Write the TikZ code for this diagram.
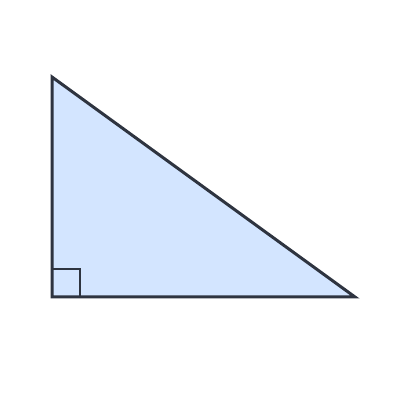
\documentclass[tikz,border=0pt]{standalone}
\definecolor{fillblue}{HTML}{D3E5FF}
\definecolor{stroke}{HTML}{2E3440}
\begin{document}
\begin{tikzpicture}[x=1pt,y=1pt,
  tri/.style={draw=stroke,fill=fillblue,line width=3pt,line join=miter},
  rightmark/.style={draw=stroke,line width=2pt}]
\useasboundingbox (0,0) rectangle (400,400);
\coordinate (A) at (52,323);
\coordinate (B) at (52,103);
\coordinate (C) at (355,103);
\filldraw[tri] (A) -- (B) -- (C) -- cycle;
\draw[rightmark] (52,131) -- (80,131) -- (80,103);
\end{tikzpicture}
\end{document}
